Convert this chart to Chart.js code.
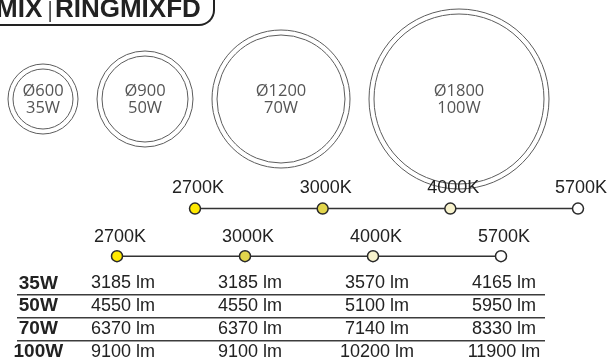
<!DOCTYPE html>
<html>
<head>
<meta charset="utf-8">
<script src="https://cdn.jsdelivr.net/npm/chart.js@4/dist/chart.umd.min.js"></script>
<style>
    html, body { margin: 0; padding: 0; background: #fff; }
    #wrap { position: relative; width: 608px; height: 363px; overflow: hidden; }
    #wrap canvas { position: absolute; left: 0; top: 0; }
    #title {
        position: absolute; left: -4px; top: -5px;
        font: 700 26px/26px "Liberation Sans", Arial, sans-serif;
        color: #222; white-space: nowrap;
    }
    #title .sep { font-weight: 400; font-size: 22px; color: #555; margin: 0 2px 0 5px; }
    #bracket {
        position: absolute; left: -10px; top: -30px; width: 225px; height: 56px;
        box-sizing: border-box;
        border-bottom: 2px solid #222; border-right: 2px solid #222;
        border-bottom-right-radius: 16px;
    }
</style>
</head>
<body>
<div id="wrap">
    <canvas id="rings" width="608" height="363"></canvas>
    <canvas id="cctTop" width="608" height="363"></canvas>
    <canvas id="cctTable" width="608" height="363"></canvas>
    <canvas id="lumens" width="608" height="363"></canvas>
    <div id="bracket"></div>
    <div id="title"><span>MIX</span><span class="sep">|</span><span>RINGMIXFD</span></div>
</div>
<script>
// ---- data ----
const RING_DIAMETERS = ["Ø600", "Ø900", "Ø1200", "Ø1800"];
const RING_WATTS = ["35W", "50W", "70W", "100W"];
const CCT_LABELS = ["2700K", "3000K", "4000K", "5700K"];
const WATT_ROWS = ["35W", "50W", "70W", "100W"];
const LUMENS_35W = [3185, 3185, 3570, 4165];
const LUMENS_50W = [4550, 4550, 5100, 5950];
const LUMENS_70W = [6370, 6370, 7140, 8330];
const LUMENS_100W = [9100, 9100, 10200, 11900];

// ---- styling ----
const RING_RADIUS = [35, 48, 69, 90];   // drawn ring size in px
const RING_GAP = 19;
const CCT_COLORS = ["#FFE900", "#E2D54C", "#F8F3CD", "#FFFFFF"];
const INK = "#222";
const FONT = "'Liberation Sans', Arial, sans-serif";

const quiet = {
    responsive: false,
    animation: false,
    events: [],
    plugins: { legend: { display: false }, tooltip: { enabled: false } }
};

// rings packed left to right, each one next to the previous
function packRings(radii, start, gap) {
    const xs = [];
    let edge = start;
    radii.forEach(r => { xs.push(edge + r); edge += 2 * r + gap; });
    return xs;
}

const ringX = packRings(RING_RADIUS, 8, RING_GAP);

const ringText = {
    id: "ringText",
    afterDatasetsDraw(chart) {
        const ctx = chart.ctx;
        ctx.save();
        ctx.fillStyle = "#555";
        ctx.font = "16.5px 'Open Sans', 'DejaVu Sans', sans-serif";
        ctx.textAlign = "center";
        ctx.textBaseline = "middle";
        chart.getDatasetMeta(0).data.forEach((el, i) => {
            ctx.fillText(RING_DIAMETERS[i], el.x, el.y - 8);
            ctx.fillText(RING_WATTS[i], el.x, el.y + 9);
        });
        ctx.restore();
    }
};

new Chart(document.getElementById("rings"), {
    type: "bubble",
    data: {
        datasets: [
            { data: RING_DIAMETERS.map((_, i) => ({ x: ringX[i], y: 0, r: RING_RADIUS[i] })) },
            { data: RING_DIAMETERS.map((_, i) => ({ x: ringX[i], y: 0, r: RING_RADIUS[i] - 5 })) }
        ].map(ds => Object.assign(ds, {
            backgroundColor: "rgba(0,0,0,0)",
            borderColor: "#5c5c5c",
            borderWidth: 1,
            clip: false
        }))
    },
    options: Object.assign({}, quiet, {
        layout: { autoPadding: false, padding: { top: 0, left: 0, right: 0, bottom: 165 } },
        scales: {
            x: { type: "linear", display: false, min: 0, max: 608 },
            y: { type: "linear", display: false, min: -1, max: 1 }
        }
    }),
    plugins: [ringText]
});

// colour temperature scale: dots on a line, labels as the top axis
function cctScale(canvasId, pad) {
    return new Chart(document.getElementById(canvasId), {
        type: "line",
        data: {
            labels: CCT_LABELS,
            datasets: [{
                data: CCT_LABELS.map(() => 0),
                borderColor: "#333",
                borderWidth: 1.5,
                pointRadius: 5.5,
                pointBackgroundColor: CCT_COLORS,
                pointBorderColor: "#2a2a2a",
                pointBorderWidth: 1.5,
                clip: false
            }]
        },
        options: Object.assign({}, quiet, {
            layout: { autoPadding: false, padding: pad },
            scales: {
                x: {
                    position: "top", offset: false,
                    grid: { display: false, drawTicks: false },
                    border: { display: false },
                    ticks: {
                        color: INK, padding: -1, labelOffset: 3,
                        autoSkip: false, maxRotation: 0,
                        font: { family: FONT, size: 18 }
                    }
                },
                y: { display: false, min: -1, max: 1 }
            }
        })
    });
}

cctScale("cctTop", { top: 178, left: 195, right: 30, bottom: 143.5 });
cctScale("cctTable", { top: 228, left: 117, right: 107, bottom: 97.5 });

// lumen table: one invisible point per cell, text drawn at the point
const LUMEN_ROWS = [LUMENS_35W, LUMENS_50W, LUMENS_70W, LUMENS_100W];
const cells = [];
WATT_ROWS.forEach((w, r) => {
    LUMEN_ROWS[r].forEach((v, c) => cells.push({ x: c, y: w, v: v }));
});

const lumenText = {
    id: "lumenText",
    afterDatasetsDraw(chart) {
        const ctx = chart.ctx;
        ctx.save();
        ctx.fillStyle = INK;
        ctx.font = "18px " + FONT;
        ctx.textAlign = "center";
        ctx.textBaseline = "middle";
        chart.getDatasetMeta(0).data.forEach((el, i) => {
            ctx.fillText(cells[i].v + " lm", el.x, el.y);
        });
        ctx.restore();
    }
};

new Chart(document.getElementById("lumens"), {
    type: "scatter",
    data: { datasets: [{ data: cells, pointRadius: 0 }] },
    options: Object.assign({}, quiet, {
        layout: { autoPadding: false, padding: { top: 272, left: 0, right: 63, bottom: 0 } },
        scales: {
            x: { type: "linear", display: false, min: -0.835, max: 3.323 },
            y: {
                type: "category", labels: WATT_ROWS, offset: true,
                afterFit: s => { s.width = 17; s.paddingTop = 0; s.paddingBottom = 0; },
                grid: {
                    offset: true, drawTicks: false, lineWidth: 1.5,
                    color: c => (c.index > 0 && c.index < WATT_ROWS.length) ? "#3c3c3c" : "rgba(0,0,0,0)"
                },
                border: { display: false },
                ticks: {
                    mirror: true, crossAlign: "center", padding: -3.5, autoSkip: false,
                    color: INK,
                    font: { family: FONT, size: 19, weight: "bold" }
                }
            }
        }
    }),
    plugins: [lumenText]
});
</script>
</body>
</html>
